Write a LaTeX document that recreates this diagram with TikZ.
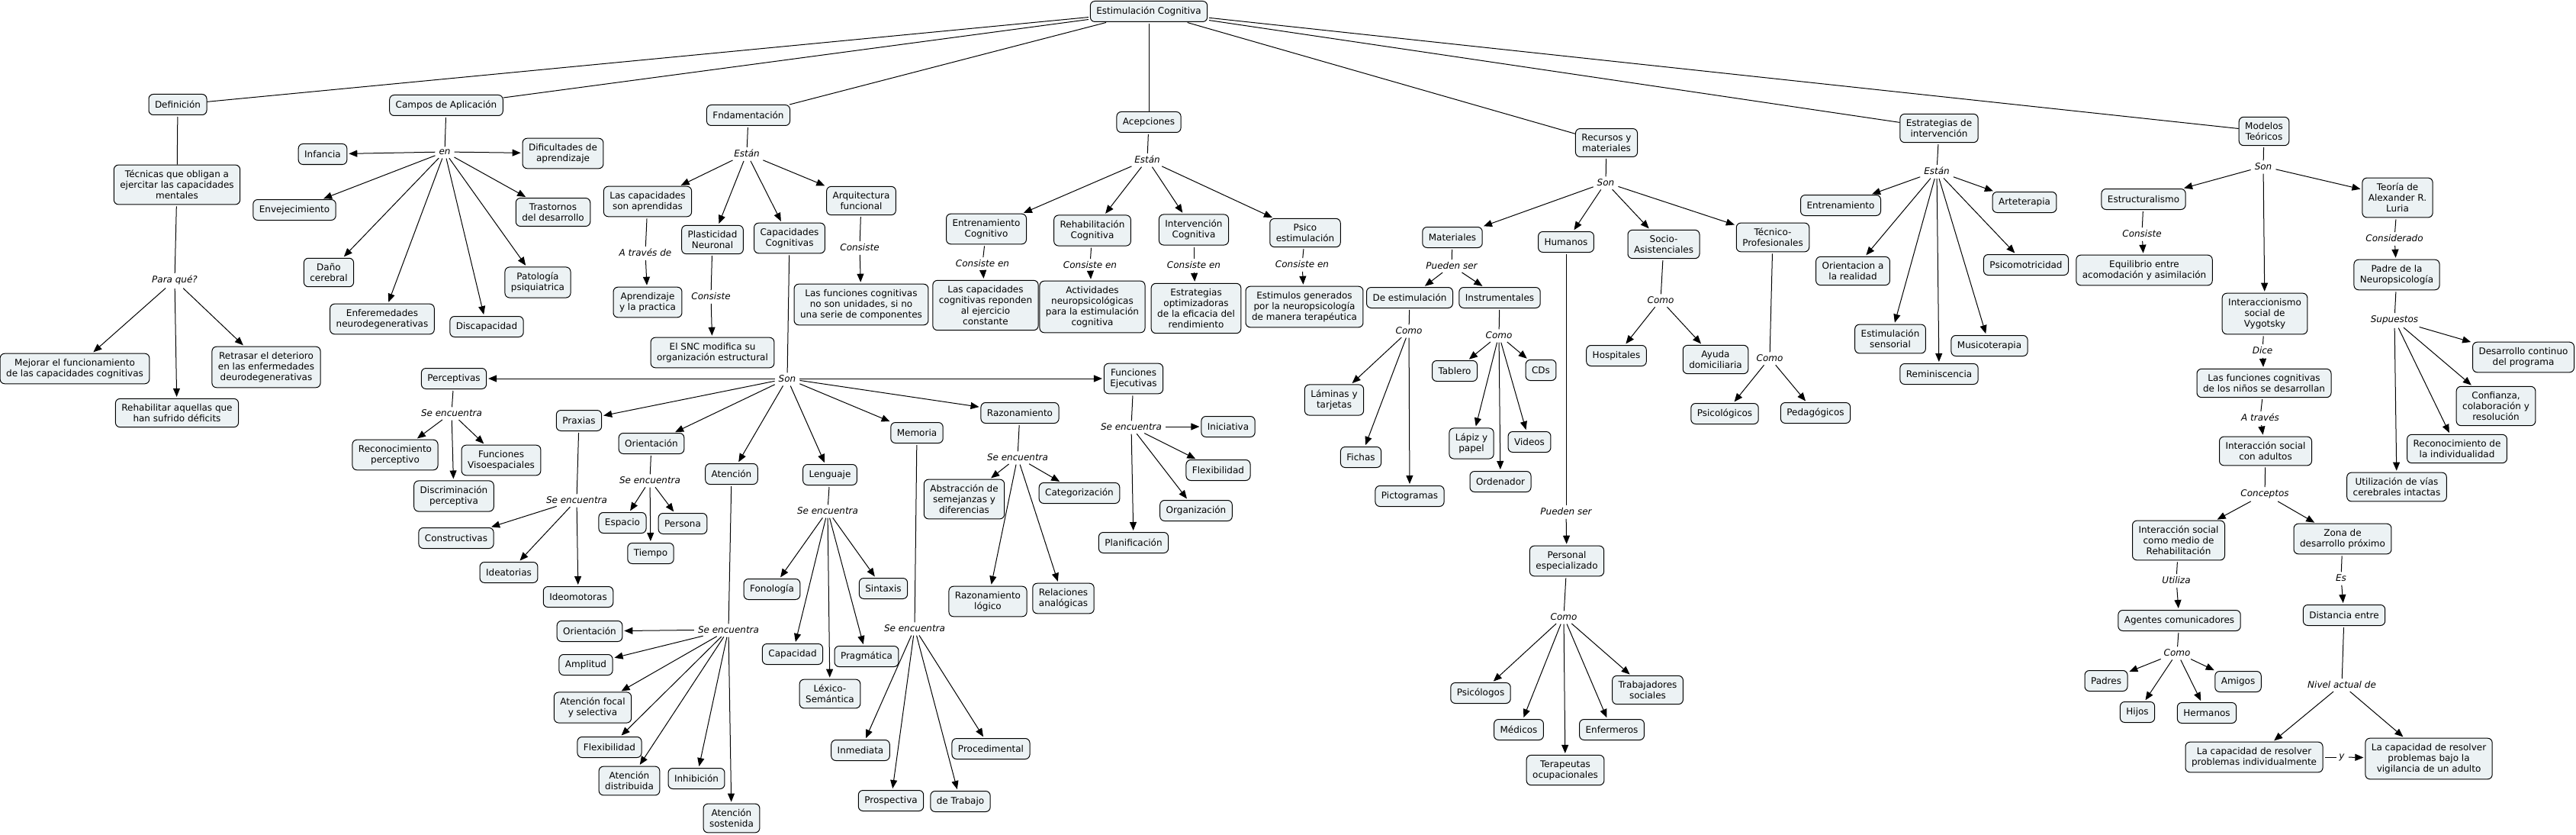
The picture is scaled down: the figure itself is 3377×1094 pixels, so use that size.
\documentclass[tikz,border=0pt]{standalone}
\usepackage{fontspec}
\setmainfont{DejaVu Sans}[ItalicFont={DejaVu Sans Oblique}]
\usepackage{xcolor}
\usetikzlibrary{arrows.meta}
\definecolor{ink}{HTML}{000000}
\definecolor{cfill}{HTML}{ECF2F4}
\tikzset{
  font=\fontsize{12}{14}\selectfont,
  >={Triangle[length=11pt, width=9pt]},
  %
  cpt/.style={
    draw=ink, line width=1pt, fill=cfill, rounded corners=6pt,
    inner xsep=8pt, inner ysep=7pt, minimum height=27pt, align=center, text=ink,
  },
  lbl/.style={font=\fontsize{12}{14}\selectfont\itshape, text=ink, inner sep=3pt},
  %
  tie/.style={draw=ink, line width=1pt, shorten <=2pt},
  flow/.style={tie, ->, shorten >=2pt},
}

\begin{document}
\begin{tikzpicture}[x=1pt, y=-1pt]
\useasboundingbox (0,0) rectangle (3377,1094);

\node[cpt] (ec) at (1506,15) {Estimulación Cognitiva};

% ---------------------------------------------------------------- definicion
\node[cpt] (defn) at (233,137) {Definición};
\node[cpt] (tecn) at (232,242) {Técnicas que obligan a\\ejercitar las capacidades\\mentales};
\node[lbl] (paraq) at (229,367) {Para qué?};
\node[cpt] (mejor) at (98,483) {Mejorar el funcionamiento\\de las capacidades cognitivas};
\node[cpt] (rehab) at (232,541) {Rehabilitar aquellas que\\han sufrido déficits};
\node[cpt] (retra) at (349,481) {Retrasar el deterioro\\en las enfermedades\\deurodegenerativas};
\draw[tie] (defn) -- (tecn);
\draw[tie] (tecn) -- (paraq);
\foreach \n in {mejor,rehab,retra} { \draw[flow] (paraq) -- (\n); }

% ---------------------------------------------------------------- campos
\node[cpt] (campos) at (585,138) {Campos de Aplicación};
\node[lbl] (en) at (583,199) {en};
\node[cpt] (infan) at (423,202) {Infancia};
\node[cpt] (dific) at (738,201) {Dificultades de\\aprendizaje};
\node[cpt] (envej) at (386,275) {Envejecimiento};
\node[cpt] (trast) at (725,278) {Trastornos\\del desarrollo};
\node[cpt] (dano) at (431,357) {Daño\\cerebral};
\node[cpt] (patol) at (705,370) {Patología\\psiquiatrica};
\node[cpt] (enfer) at (501,418) {Enferemedades\\neurodegenerativas};
\node[cpt] (disca) at (638,428) {Discapacidad};
\draw[tie] (campos) -- (en);
\foreach \n in {infan,dific,envej,trast,dano,patol,enfer,disca} { \draw[flow] (en) -- (\n); }

% ---------------------------------------------------------------- fundamentacion
\node[cpt] (fnd) at (981,151) {Fndamentación};
\node[lbl] (estanf) at (979,201) {Están};
\node[cpt] (capap) at (849,264) {Las capacidades\\son aprendidas};
\node[cpt] (plast) at (934,314) {Plasticidad\\Neuronal};
\node[cpt] (capco) at (1035,312) {Capacidades\\Cognitivas};
\node[cpt] (arqui) at (1129,263) {Arquitectura\\funcional};
\draw[tie] (fnd) -- (estanf);
\foreach \n in {capap,plast,capco,arqui} { \draw[flow] (estanf) -- (\n); }

\node[lbl] (atrav) at (846,331) {A través de};
\node[cpt] (aprend) at (849,396) {Aprendizaje\\y la practica};
\draw[tie] (capap) -- (atrav);
\draw[flow] (atrav) -- (aprend);

\node[lbl] (consp) at (932,388) {Consiste};
\node[cpt] (snc) at (934,462) {El SNC modifica su\\organización estructural};
\draw[tie] (plast) -- (consp);
\draw[flow] (consp) -- (snc);

\node[lbl] (consa) at (1127,324) {Consiste};
\node[cpt] (funun) at (1129,399) {Las funciones cognitivas\\no son unidades, si no\\una serie de componentes};
\draw[tie] (arqui) -- (consa);
\draw[flow] (consa) -- (funun);

% ---------------------------------------------------------------- capacidades cognitivas
\node[lbl] (son) at (1032,496) {Son};
\node[cpt] (perc) at (595,496) {Perceptivas};
\node[cpt] (prax) at (759,551) {Praxias};
\node[cpt] (orien) at (854,581) {Orientación};
\node[cpt] (atenc) at (959,621) {Atención};
\node[cpt] (lengu) at (1088,622) {Lenguaje};
\node[cpt] (memor) at (1202,567) {Memoria};
\node[cpt] (razon) at (1337,541) {Razonamiento};
\node[cpt] (fejec) at (1486,496) {Funciones\\Ejecutivas};
\draw[tie] (capco) -- (son);
\foreach \n in {perc,prax,orien,atenc,lengu,memor,razon,fejec} { \draw[flow] (son) -- (\n); }

% perceptivas
\node[lbl] (sep) at (592,541) {Se encuentra};
\node[cpt] (recop) at (518,596) {Reconocimiento\\perceptivo};
\node[cpt] (disp) at (595,650) {Discriminación\\perceptiva};
\node[cpt] (fvis) at (657,603) {Funciones\\Visoespaciales};
\draw[tie] (perc) -- (sep);
\foreach \n in {recop,disp,fvis} { \draw[flow] (sep) -- (\n); }

% praxias
\node[lbl] (sepx) at (756,655) {Se encuentra};
\node[cpt] (const) at (598,705) {Constructivas};
\node[cpt] (ideat) at (667,750) {Ideatorias};
\node[cpt] (ideom) at (758,782) {Ideomotoras};
\draw[tie] (prax) -- (sepx);
\foreach \n in {const,ideat,ideom} { \draw[flow] (sepx) -- (\n); }

% orientacion
\node[lbl] (seo) at (852,629) {Se encuentra};
\node[cpt] (espac) at (816,685) {Espacio};
\node[cpt] (tiemp) at (853,725) {Tiempo};
\node[cpt] (perso) at (895,686) {Persona};
\draw[tie] (orien) -- (seo);
\foreach \n in {espac,tiemp,perso} { \draw[flow] (seo) -- (\n); }

% atencion
\node[lbl] (sea) at (955,825) {Se encuentra};
\node[cpt] (orat) at (773,827) {Orientación};
\node[cpt] (ampl) at (768,871) {Amplitud};
\node[cpt] (afoc) at (777,927) {Atención focal\\y selectiva};
\node[cpt] (flexa) at (799,979) {Flexibilidad};
\node[cpt] (adist) at (825,1023) {Atención\\distribuida};
\node[cpt] (inhib) at (913,1020) {Inhibición};
\node[cpt] (asost) at (959,1072) {Atención\\sostenida};
\draw[tie] (atenc) -- (sea);
\foreach \n in {orat,ampl,afoc,flexa,adist,inhib,asost} { \draw[flow] (sea) -- (\n); }

% lenguaje
\node[lbl] (sel) at (1085,669) {Se encuentra};
\node[cpt] (fonol) at (1012,772) {Fonología};
\node[cpt] (capac) at (1039,857) {Capacidad};
\node[cpt] (lexic) at (1088,909) {Léxico-\\Semántica};
\node[cpt] (pragm) at (1136,860) {Pragmática};
\node[cpt] (sinta) at (1158,771) {Sintaxis};
\draw[tie] (lengu) -- (sel);
\foreach \n in {fonol,capac,lexic,pragm,sinta} { \draw[flow] (sel) -- (\n); }

% memoria
\node[lbl] (sem) at (1199,823) {Se encuentra};
\node[cpt] (inmed) at (1128,983) {Inmediata};
\node[cpt] (prosp) at (1168,1049) {Prospectiva};
\node[cpt] (trab) at (1259,1050) {de Trabajo};
\node[cpt] (proce) at (1299,981) {Procedimental};
\draw[tie] (memor) -- (sem);
\foreach \n in {inmed,prosp,trab,proce} { \draw[flow] (sem) -- (\n); }

% razonamiento
\node[lbl] (ser) at (1334,599) {Se encuentra};
\node[cpt] (abstr) at (1264,654) {Abstracción de\\semejanzas y\\diferencias};
\node[cpt] (rlogi) at (1295,788) {Razonamiento\\lógico};
\node[cpt] (ranal) at (1394,784) {Relaciones\\analógicas};
\node[cpt] (categ) at (1415,646) {Categorización};
\draw[tie] (razon) -- (ser);
\foreach \n in {abstr,rlogi,ranal,categ} { \draw[flow] (ser) -- (\n); }

% funciones ejecutivas
\node[lbl] (sef) at (1483,559) {Se encuentra};
\node[cpt] (inic) at (1610,559) {Iniciativa};
\node[cpt] (flexf) at (1597,616) {Flexibilidad};
\node[cpt] (organ) at (1568,669) {Organización};
\node[cpt] (plani) at (1486,711) {Planificación};
\draw[tie] (fejec) -- (sef);
\foreach \n in {inic,flexf,organ,plani} { \draw[flow] (sef) -- (\n); }

% ---------------------------------------------------------------- acepciones
\node[cpt] (acep) at (1506,160) {Acepciones};
\node[lbl] (estana) at (1504,209) {Están};
\node[cpt] (entc) at (1293,300) {Entrenamiento\\Cognitivo};
\node[cpt] (rehc) at (1432,302) {Rehabilitación\\Cognitiva};
\node[cpt] (intc) at (1565,301) {Intervención\\Cognitiva};
\node[cpt] (psico) at (1711,305) {Psico\\estimulación};
\draw[tie] (acep) -- (estana);
\foreach \n in {entc,rehc,intc,psico} { \draw[flow] (estana) -- (\n); }

\node[lbl] (ce1) at (1288,345) {Consiste en};
\node[lbl] (ce2) at (1429,347) {Consiste en};
\node[lbl] (ce3) at (1565,347) {Consiste en};
\node[lbl] (ce4) at (1707,346) {Consiste en};
\node[cpt] (capre) at (1292,400) {Las capacidades\\cognitivas reponden\\al ejercicio\\constante};
\node[cpt] (activ) at (1432,402) {Actividades\\neuropsicológicas\\para la estimulación\\cognitiva};
\node[cpt] (estop) at (1568,404) {Estrategias\\optimizadoras\\de la eficacia del\\rendimiento};
\node[cpt] (estim) at (1710,402) {Estimulos generados\\por la neuropsicología\\de manera terapéutica};
\draw[tie] (entc) -- (ce1);  \draw[flow] (ce1) -- (capre);
\draw[tie] (rehc) -- (ce2);  \draw[flow] (ce2) -- (activ);
\draw[tie] (intc) -- (ce3);  \draw[flow] (ce3) -- (estop);
\draw[tie] (psico) -- (ce4); \draw[flow] (ce4) -- (estim);

% ---------------------------------------------------------------- recursos
\node[cpt] (recur) at (2106,187) {Recursos y\\materiales};
\node[lbl] (sonr) at (2105,239) {Son};
\node[cpt] (mater) at (1904,311) {Materiales};
\node[cpt] (human) at (2053,317) {Humanos};
\node[cpt] (socio) at (2181,320) {Socio-\\Asistenciales};
\node[cpt] (tecpr) at (2324,311) {Técnico-\\Profesionales};
\draw[tie] (recur) -- (sonr);
\foreach \n in {mater,human,socio,tecpr} { \draw[flow] (sonr) -- (\n); }

\node[lbl] (pser) at (1903,348) {Pueden ser};
\node[cpt] (destim) at (1848,390) {De estimulación};
\node[cpt] (instr) at (1966,390) {Instrumentales};
\draw[tie] (mater) -- (pser);
\foreach \n in {destim,instr} { \draw[flow] (pser) -- (\n); }

\node[lbl] (como1) at (1847,433) {Como};
\node[cpt] (lamin) at (1749,524) {Láminas y\\tarjetas};
\node[cpt] (ficha) at (1784,599) {Fichas};
\node[cpt] (picto) at (1848,650) {Pictogramas};
\draw[tie] (destim) -- (como1);
\foreach \n in {lamin,ficha,picto} { \draw[flow] (como1) -- (\n); }

\node[lbl] (como2) at (1965,439) {Como};
\node[cpt] (table) at (1907,486) {Tablero};
\node[cpt] (lapiz) at (1929,581) {Lápiz y\\papel};
\node[cpt] (orden) at (1967,631) {Ordenador};
\node[cpt] (video) at (2005,579) {Videos};
\node[cpt] (cds) at (2020,485) {CDs};
\draw[tie] (instr) -- (como2);
\foreach \n in {table,lapiz,orden,video,cds} { \draw[flow] (como2) -- (\n); }

\node[lbl] (pserh) at (2053,670) {Pueden ser};
\node[cpt] (pesp) at (2054,735) {Personal\\especializado};
\draw[tie] (human) -- (pserh);
\draw[flow] (pserh) -- (pesp);

\node[lbl] (como3) at (2050,808) {Como};
\node[cpt] (psicl) at (1941,908) {Psicólogos};
\node[cpt] (medic) at (1991,956) {Médicos};
\node[cpt] (terap) at (2052,1009) {Terapeutas\\ocupacionales};
\node[cpt] (enfrm) at (2113,956) {Enfermeros};
\node[cpt] (traba) at (2160,904) {Trabajadores\\sociales};
\draw[tie] (pesp) -- (como3);
\foreach \n in {psicl,medic,terap,enfrm,traba} { \draw[flow] (como3) -- (\n); }

\node[lbl] (como4) at (2177,393) {Como};
\node[cpt] (hospi) at (2119,466) {Hospitales};
\node[cpt] (ayuda) at (2249,471) {Ayuda\\domiciliaria};
\draw[tie] (socio) -- (como4);
\foreach \n in {hospi,ayuda} { \draw[flow] (como4) -- (\n); }

\node[lbl] (como5) at (2320,469) {Como};
\node[cpt] (psicg) at (2261,542) {Psicológicos};
\node[cpt] (pedag) at (2380,541) {Pedagógicos};
\draw[tie] (tecpr) -- (como5);
\foreach \n in {psicg,pedag} { \draw[flow] (como5) -- (\n); }

% ---------------------------------------------------------------- estrategias
\node[cpt] (estrat) at (2542,168) {Estrategias de\\intervención};
\node[lbl] (estane) at (2539,224) {Están};
\node[cpt] (entre) at (2413,269) {Entrenamiento};
\node[cpt] (orrea) at (2429,355) {Orientacion a\\la realidad};
\node[cpt] (estse) at (2478,444) {Estimulación\\sensorial};
\node[cpt] (remin) at (2542,490) {Reminiscencia};
\node[cpt] (music) at (2608,453) {Musicoterapia};
\node[cpt] (psimo) at (2656,347) {Psicomotricidad};
\node[cpt] (artet) at (2654,265) {Arteterapia};
\draw[tie] (estrat) -- (estane);
\foreach \n in {entre,orrea,estse,remin,music,psimo,artet} { \draw[flow] (estane) -- (\n); }

% ---------------------------------------------------------------- modelos
\node[cpt] (model) at (2968,172) {Modelos\\Teóricos};
\node[lbl] (sonm) at (2967,218) {Son};
\node[cpt] (estru) at (2810,261) {Estructuralismo};
\node[cpt] (inter) at (2969,411) {Interaccionismo\\social de\\Vygotsky};
\node[cpt] (luria) at (3143,259) {Teoría de\\Alexander R.\\Luria};
\draw[tie] (model) -- (sonm);
\foreach \n in {estru,inter,luria} { \draw[flow] (sonm) -- (\n); }

\node[lbl] (conse) at (2808,306) {Consiste};
\node[cpt] (equil) at (2811,354) {Equilibrio entre\\acomodación y asimilación};
\draw[tie] (estru) -- (conse);
\draw[flow] (conse) -- (equil);

\node[lbl] (consi) at (3139,312) {Considerado};
\node[cpt] (padre) at (3142,360) {Padre de la\\Neuropsicología};
\draw[tie] (luria) -- (consi);
\draw[flow] (consi) -- (padre);

\node[lbl] (supu) at (3139,419) {Supuestos};
\node[cpt] (desar) at (3308,468) {Desarrollo continuo\\del programa};
\node[cpt] (confi) at (3272,532) {Confianza,\\colaboración y\\resolución};
\node[cpt] (recin) at (3221,588) {Reconocimiento de\\la individualidad};
\node[cpt] (utili) at (3142,638) {Utilización de vías\\cerebrales intactas};
\draw[tie] (padre) -- (supu);
\foreach \n in {desar,confi,recin,utili} { \draw[flow] (supu) -- (\n); }

\node[lbl] (dice) at (2966,459) {Dice};
\node[cpt] (fcnin) at (2968,502) {Las funciones cognitivas\\de los niños se desarrollan};
\node[lbl] (atra) at (2963,547) {A través};
\node[cpt] (isadu) at (2970,591) {Interacción social\\con adultos};
\node[lbl] (conc) at (2969,647) {Conceptos};
\node[cpt] (ismed) at (2856,708) {Interacción social\\como medio de\\Rehabilitación};
\node[cpt] (zona) at (3071,706) {Zona de\\desarrollo próximo};
\draw[tie] (inter) -- (dice);  \draw[flow] (dice) -- (fcnin);
\draw[tie] (fcnin) -- (atra);  \draw[flow] (atra) -- (isadu);
\draw[tie] (isadu) -- (conc);
\foreach \n in {ismed,zona} { \draw[flow] (conc) -- (\n); }

\node[lbl] (utiliza) at (2853,760) {Utiliza};
\node[cpt] (agent) at (2857,813) {Agentes comunicadores};
\node[lbl] (como6) at (2854,855) {Como};
\node[cpt] (padres) at (2761,892) {Padres};
\node[cpt] (hijos) at (2802,933) {Hijos};
\node[cpt] (herma) at (2893,934) {Hermanos};
\node[cpt] (amigo) at (2934,893) {Amigos};
\draw[tie] (ismed) -- (utiliza); \draw[flow] (utiliza) -- (agent);
\draw[tie] (agent) -- (como6);
\foreach \n in {padres,hijos,herma,amigo} { \draw[flow] (como6) -- (\n); }

\node[lbl] (es) at (3069,757) {Es};
\node[cpt] (dista) at (3073,806) {Distancia entre};
\node[lbl] (nivel) at (3070,897) {Nivel actual de};
\node[cpt] (cind) at (2955,992) {La capacidad de resolver\\problemas individualmente};
\node[cpt] (cvig) at (3184,994) {La capacidad de resolver\\problemas bajo la\\vigilancia de un adulto};
\node[lbl] (yy) at (3070,992) {y};
\draw[tie] (zona) -- (es);   \draw[flow] (es) -- (dista);
\draw[tie] (dista) -- (nivel);
\foreach \n in {cind,cvig} { \draw[flow] (nivel) -- (\n); }
\draw[tie] (cind) -- (yy);   \draw[flow] (yy) -- (cvig);

% ---------------------------------------------------------------- root links
\foreach \n in {defn,campos,fnd,acep,recur,estrat,model} { \draw[tie] (ec) -- (\n); }

\end{tikzpicture}
\end{document}
